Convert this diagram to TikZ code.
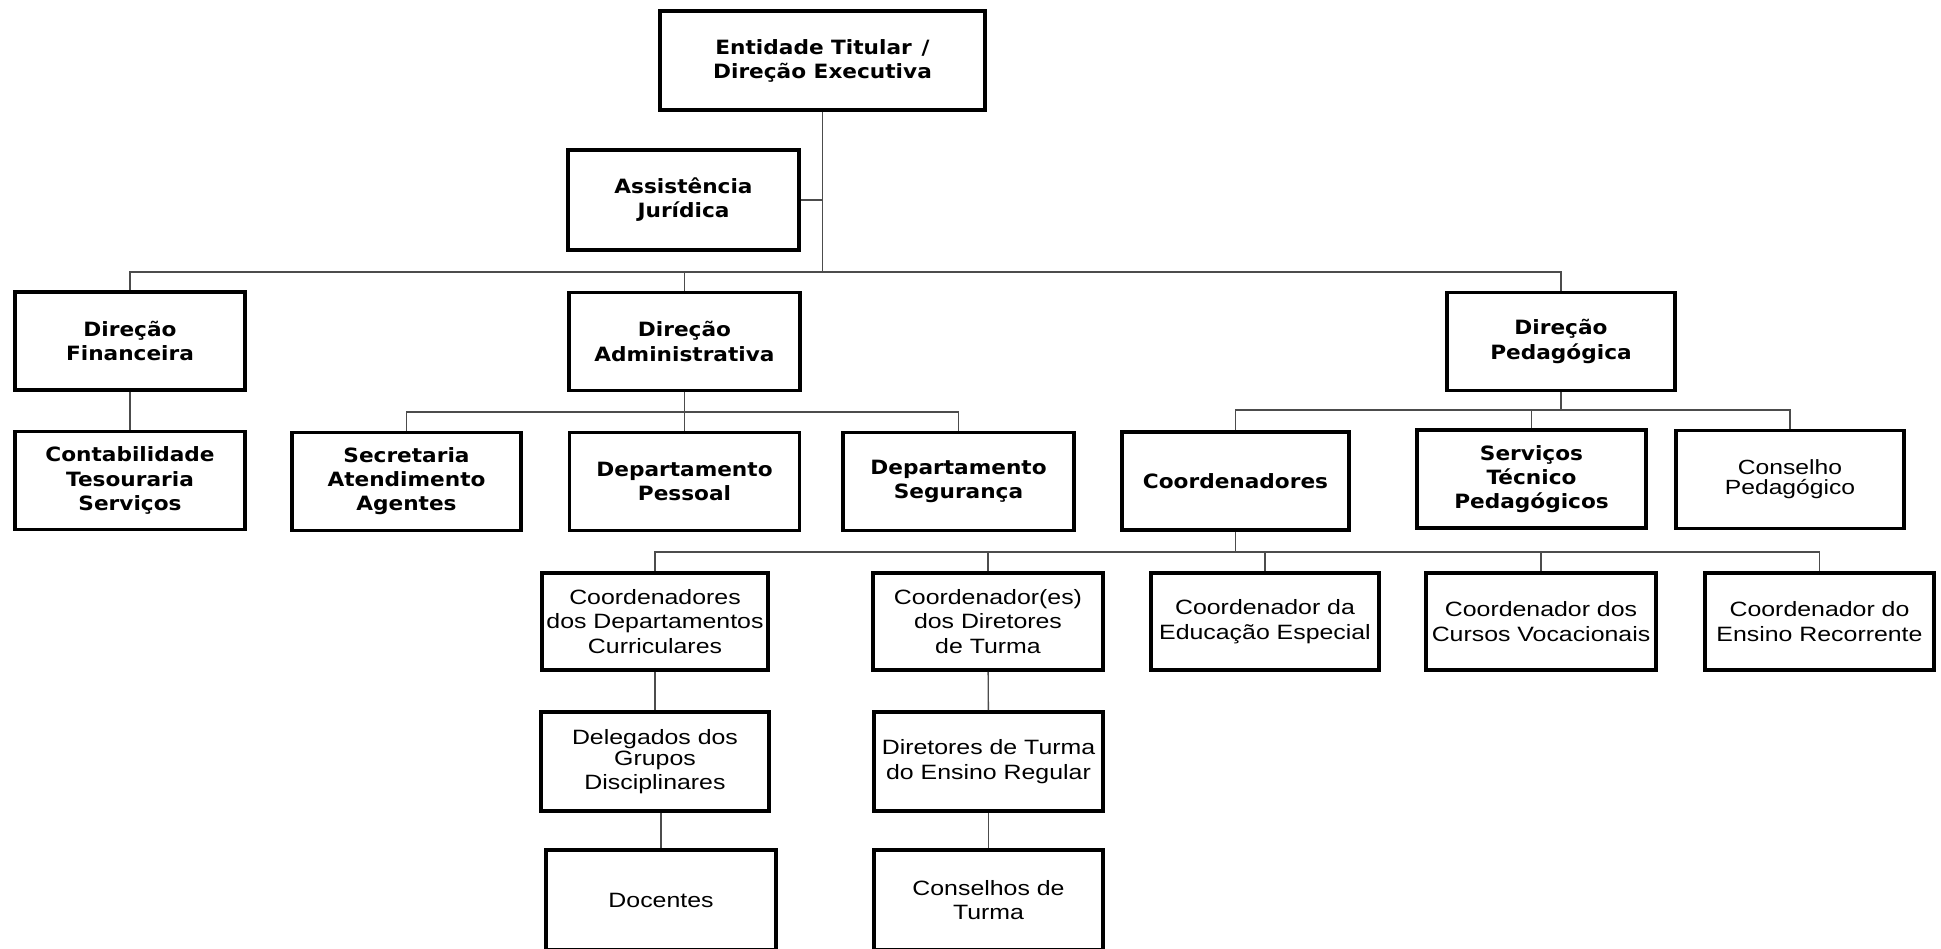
\documentclass[tikz,border=0pt]{standalone}
\usepackage{fontspec}
\setmainfont{Liberation Sans}
\newfontfamily\widefont[FakeStretch=1.2]{Liberation Sans}
\newfontfamily\dejavu[FakeStretch=1.1]{DejaVu Sans}
\begin{document}
\begin{tikzpicture}[x=0.02cm, y=-0.02cm,
  box/.style={draw, line width=2.2pt, align=center, inner sep=0pt, minimum width=4.58cm, minimum height=1.96cm},
  bbox/.style={box, font={\dejavu\bfseries\fontsize{11.2}{13.7}\selectfont}},
  nbox/.style={box, font={\widefont\fontsize{11.8}{14}\selectfont}},
  link/.style={draw=black!70, line width=0.8pt}]
\useasboundingbox (0,0) rectangle (1941,949);
% top levels
\node[bbox, minimum width=6.5cm, minimum height=1.98cm] (top) at (822.5,60.5) {Entidade Titular\enspace/\\Direção Executiva};
\node[bbox, minimum width=4.62cm, minimum height=2cm] (ass) at (683.5,200) {Assistência\\Jurídica};
\node[bbox, minimum width=4.6cm] (fin) at (130,341) {Direção\\Financeira};
\node[bbox, minimum width=4.62cm] (adm) at (684.5,341.5) {Direção\\Administrativa};
\node[bbox, minimum width=4.56cm] (ped) at (1561,341.5) {Direção\\Pedagógica};
% second row
\node[bbox, minimum width=4.6cm] (cont) at (130,480.5) {Contabilidade\\Tesouraria\\Serviços};
\node[bbox] (sec) at (406.5,481.5) {Secretaria\\Atendimento\\Agentes};
\node[bbox, minimum width=4.6cm] (pes) at (684.5,481.5) {Departamento\\Pessoal};
\node[bbox, minimum width=4.62cm] (seg) at (958.5,481.5) {Departamento\\Segurança};
\node[bbox, minimum width=4.54cm] (coo) at (1235.5,481) {Coordenadores};
\node[bbox] (ser) at (1531.5,479) {Serviços\\Técnico\\Pedagógicos};
\node[nbox, minimum width=4.56cm, font={\widefont\fontsize{11.7}{11.4}\selectfont}] (con) at (1790,479.5) {Conselho\\Pedagógico};
% coordinators
\node[nbox, minimum width=4.52cm, minimum height=1.94cm] (cdc) at (655,621.5) {Coordenadores\\dos Departamentos\\Curriculares};
\node[nbox, minimum width=4.6cm, minimum height=1.94cm] (cdt) at (988,621.5) {Coordenador(es)\\dos Diretores\\de Turma};
\node[nbox, minimum width=4.56cm, minimum height=1.94cm] (esp) at (1265,621.5) {Coordenador da\\Educação Especial};
\node[nbox, minimum width=4.6cm, minimum height=1.94cm] (voc) at (1541,621.5) {Coordenador dos\\Cursos Vocacionais};
\node[nbox, minimum height=1.94cm] (rec) at (1819.5,621.5) {Coordenador do\\Ensino Recorrente};
\node[nbox, minimum width=4.56cm, minimum height=1.98cm] (del) at (655,761.5) {Delegados dos\\[-2pt]Grupos\\Disciplinares};
\node[nbox, minimum width=4.58cm, minimum height=1.98cm] (dtr) at (988.5,761.5) {Diretores de Turma\\do Ensino Regular};
\node[nbox, minimum width=4.6cm, minimum height=2cm] (doc) at (661,900) {Docentes};
\node[nbox, minimum height=2cm] (cst) at (988.5,900) {Conselhos de\\Turma};
% bus points
\coordinate (b1) at (822.5,272);
\coordinate (b2) at (684.5,412);
\coordinate (b3) at (1561,410);
\coordinate (b4) at (1235.5,552);
% connectors
\draw[link] (top) -- (b1);
\draw[link] (ass.east) -- (ass.east -| top.south);
\draw[link] (fin.north) |- (b1) -| (ped.north);
\draw[link] (adm.north) -- (adm.north |- b1);
\draw[link] (fin) -- (cont);
\draw[link] (adm) -- (b2);
\draw[link] (sec.north) |- (b2) -| (seg.north);
\draw[link] (pes.north) -- (pes.north |- b2);
\draw[link] (ped) -- (b3);
\draw[link] (coo.north) |- (b3) -| (con.north);
\draw[link] (ser.north) -- (ser.north |- b3);
\draw[link] (coo) -- (b4);
\draw[link] (cdc.north) |- (b4) -| (rec.north);
\draw[link] (cdt.north) -- (cdt.north |- b4);
\draw[link] (esp.north) -- (esp.north |- b4);
\draw[link] (voc.north) -- (voc.north |- b4);
\draw[link] (cdc) -- (del);
\draw[link] (doc.north) -- (doc.north |- del.south);
\draw[link] (cdt) -- (dtr);
\draw[link] (dtr) -- (cst);
\end{tikzpicture}
\end{document}
